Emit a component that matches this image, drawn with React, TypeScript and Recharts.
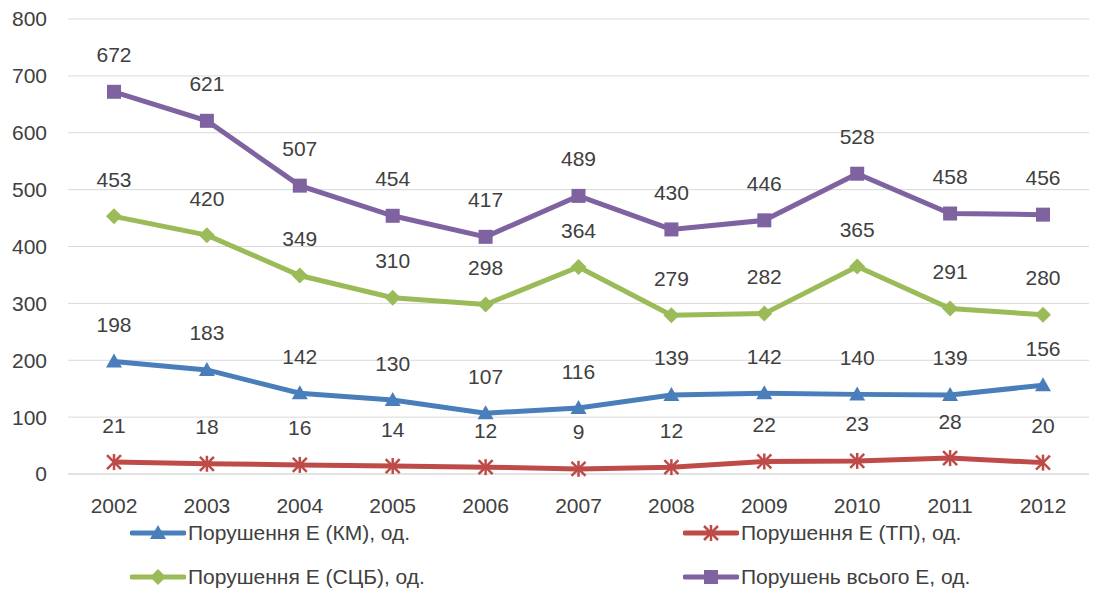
import React from "react";
import { CartesianGrid, LabelList, Line, LineChart, XAxis, YAxis } from "recharts";

const years = ["2002", "2003", "2004", "2005", "2006", "2007", "2008", "2009", "2010", "2011", "2012"];
const km = [198, 183, 142, 130, 107, 116, 139, 142, 140, 139, 156];
const tp = [21, 18, 16, 14, 12, 9, 12, 22, 23, 28, 20];
const scb = [453, 420, 349, 310, 298, 364, 279, 282, 365, 291, 280];
const total = [672, 621, 507, 454, 417, 489, 430, 446, 528, 458, 456];
const yTicks = [0, 100, 200, 300, 400, 500, 600, 700, 800];

const FONT = "'Liberation Sans', Arial, sans-serif";
const TEXT = "#404040";

const BLUE = "#4a7ebb";
const RED = "#be4b48";
const GREEN = "#9bbb59";
const PURPLE = "#7f63a1";

const data = years.map((year, i) => ({ year, km: km[i], tp: tp[i], scb: scb[i], total: total[i] }));

type Shape = "triangle" | "star" | "diamond" | "square";

const Marker = ({ cx, cy, shape, color }: { cx: number; cy: number; shape: Shape; color: string }) => {
  if (cx == null || cy == null) return null;
  if (shape === "triangle") {
    return <polygon points={`${cx},${cy - 8} ${cx + 8},${cy + 6} ${cx - 8},${cy + 6}`} fill={color} />;
  }
  if (shape === "diamond") {
    return <polygon points={`${cx},${cy - 8} ${cx + 8},${cy} ${cx},${cy + 8} ${cx - 8},${cy}`} fill={color} />;
  }
  if (shape === "square") {
    return <rect x={cx - 7} y={cy - 7} width={14} height={14} fill={color} />;
  }
  return (
    <g stroke={color} strokeWidth={2.5}>
      <line x1={cx - 7} y1={cy - 7} x2={cx + 7} y2={cy + 7} />
      <line x1={cx - 7} y1={cy + 7} x2={cx + 7} y2={cy - 7} />
      <line x1={cx} y1={cy - 8} x2={cx} y2={cy + 8} />
    </g>
  );
};

const dotFor = (shape: Shape, color: string) => (props: any) => (
  <Marker key={`${shape}-${props.index}`} cx={props.cx} cy={props.cy} shape={shape} color={color} />
);

const ValueLabel = (props: any) => {
  const { x, y, value } = props;
  return (
    <text x={x} y={y - 35} textAnchor="middle" dominantBaseline="middle" fill={TEXT} fontSize={21} fontFamily={FONT}>
      {value}
    </text>
  );
};

const LegendItem = ({ left, top, shape, color, label }: { left: number; top: number; shape: Shape; color: string; label: string }) => (
  <div style={{ position: "absolute", left, top: top - 14, height: 28, display: "flex", alignItems: "center" }}>
    <svg width={56} height={28}>
      <line x1={2} y1={14} x2={54} y2={14} stroke={color} strokeWidth={5} strokeLinecap="round" />
      <Marker cx={28} cy={14} shape={shape} color={color} />
    </svg>
    <span style={{ fontFamily: FONT, fontSize: 21, color: TEXT, marginLeft: 2, whiteSpace: "nowrap" }}>{label}</span>
  </div>
);

export default function App() {
  return (
    <div style={{ position: "absolute", left: 0, top: 0, width: 1109, height: 592, background: "#fff" }}>
      <LineChart width={1109} height={592} data={data} margin={{ top: 19, right: 20, left: 0, bottom: 73 }}>
        <CartesianGrid vertical={false} stroke="#d9d9d9" />
        <XAxis
          dataKey="year"
          padding={{ left: 46, right: 46 }}
          axisLine={{ stroke: "#d9d9d9" }}
          tickLine={false}
          tickMargin={18}
          height={45}
          tick={{ fill: TEXT, fontSize: 21, fontFamily: FONT }}
        />
        <YAxis
          width={68}
          domain={[0, 800]}
          ticks={yTicks}
          axisLine={false}
          tickLine={false}
          tickMargin={15}
          tick={{ fill: TEXT, fontSize: 21, fontFamily: FONT }}
        />
        <Line dataKey="tp" stroke={RED} strokeWidth={5} dot={dotFor("star", RED)} isAnimationActive={false}>
          <LabelList dataKey="tp" content={ValueLabel} />
        </Line>
        <Line dataKey="km" stroke={BLUE} strokeWidth={5} dot={dotFor("triangle", BLUE)} isAnimationActive={false}>
          <LabelList dataKey="km" content={ValueLabel} />
        </Line>
        <Line dataKey="scb" stroke={GREEN} strokeWidth={5} dot={dotFor("diamond", GREEN)} isAnimationActive={false}>
          <LabelList dataKey="scb" content={ValueLabel} />
        </Line>
        <Line dataKey="total" stroke={PURPLE} strokeWidth={5} dot={dotFor("square", PURPLE)} isAnimationActive={false}>
          <LabelList dataKey="total" content={ValueLabel} />
        </Line>
      </LineChart>
      <LegendItem left={130} top={533} shape="triangle" color={BLUE} label="Порушення Е (КМ), од." />
      <LegendItem left={683} top={533} shape="star" color={RED} label="Порушення Е (ТП), од." />
      <LegendItem left={130} top={577} shape="diamond" color={GREEN} label="Порушення Е (СЦБ), од." />
      <LegendItem left={683} top={577} shape="square" color={PURPLE} label="Порушень всього Е, од." />
    </div>
  );
}
